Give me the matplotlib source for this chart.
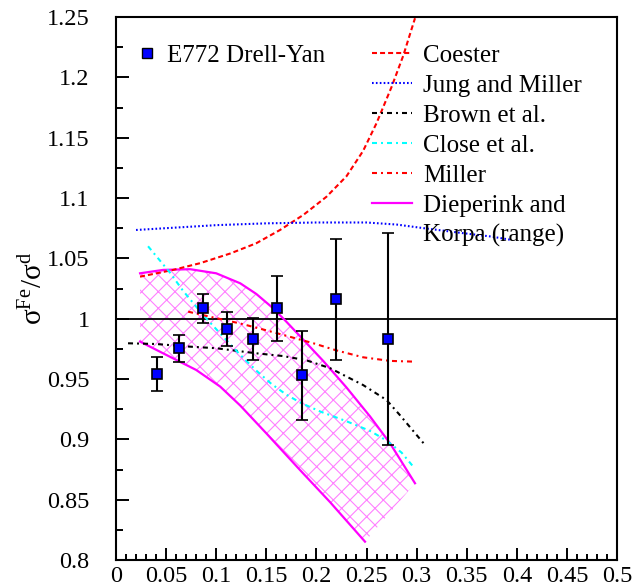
import matplotlib
matplotlib.use("Agg")
import matplotlib.pyplot as plt
from matplotlib.lines import Line2D
from matplotlib.ticker import MultipleLocator, FormatStrFormatter

plt.rcParams["font.family"] = "serif"
plt.rcParams["font.serif"] = ["Liberation Serif", "DejaVu Serif"]
plt.rcParams["mathtext.fontset"] = "custom"
plt.rcParams["mathtext.rm"] = "Liberation Serif"
plt.rcParams["mathtext.it"] = "Liberation Serif:italic"
plt.rcParams["lines.scale_dashes"] = False
plt.rcParams["hatch.linewidth"] = 0.8

# E772 Drell-Yan data
x_e772 = [0.041, 0.063, 0.087, 0.111, 0.137, 0.161, 0.186, 0.2196, 0.271]
y_e772 = [0.954, 0.9755, 1.0086, 0.9915, 0.9834, 1.0086, 0.953, 1.016, 0.9834]
err_e772 = [0.014, 0.011, 0.012, 0.014, 0.0175, 0.027, 0.037, 0.050, 0.088]

# Model curves
x_coester = [0.024, 0.057, 0.084, 0.114, 0.140, 0.1637, 0.187, 0.210, 0.230, 0.2466, 0.260, 0.275, 0.2867, 0.2984]
y_coester = [1.0348, 1.0404, 1.046, 1.054, 1.0625, 1.0735, 1.086, 1.101, 1.118, 1.139, 1.162, 1.192, 1.218, 1.249]

x_jung = [0.020, 0.06, 0.10, 0.15, 0.20, 0.25, 0.28, 0.307, 0.347, 0.375, 0.395]
y_jung = [1.0735, 1.0755, 1.0775, 1.079, 1.0797, 1.0797, 1.078, 1.075, 1.0708, 1.068, 1.0652]

x_brown = [0.012, 0.04, 0.074, 0.100, 0.140, 0.167, 0.190, 0.2136, 0.2466, 0.270, 0.2834, 0.307]
y_brown = [0.9796, 0.979, 0.9768, 0.9755, 0.9713, 0.969, 0.9655, 0.959, 0.945, 0.9326, 0.920, 0.8967]

x_close = [0.032, 0.054, 0.067, 0.087, 0.107, 0.124, 0.140, 0.155, 0.170, 0.185, 0.204, 0.230, 0.2535, 0.270, 0.285, 0.297]
y_close = [1.060, 1.038, 1.023, 1.003, 0.985, 0.970, 0.957, 0.946, 0.937, 0.930, 0.923, 0.915, 0.907, 0.899, 0.889, 0.877]

x_miller = [0.072, 0.097, 0.124, 0.147, 0.167, 0.197, 0.220, 0.2466, 0.2735, 0.297]
y_miller = [1.0058, 1.0010, 0.9960, 0.9910, 0.9865, 0.9796, 0.9737, 0.968, 0.9650, 0.9644]

x_dk_upper = [0.024, 0.047, 0.074, 0.100, 0.124, 0.140, 0.157, 0.170, 0.1836, 0.207, 0.230, 0.2535, 0.2735, 0.2984]
y_dk_upper = [1.0376, 1.0404, 1.041, 1.0376, 1.0293, 1.0205, 1.0085, 0.9975, 0.9855, 0.9648, 0.9430, 0.919, 0.8967, 0.8636]

x_dk_lower = [0.024, 0.047, 0.080, 0.104, 0.124, 0.150, 0.1836, 0.2136, 0.2485]
y_dk_lower = [0.981, 0.9713, 0.9575, 0.9437, 0.928, 0.905, 0.8746, 0.8480, 0.8152]

x_ticks = [0, 0.05, 0.1, 0.15, 0.2, 0.25, 0.3, 0.35, 0.4, 0.45, 0.5]
y_ticks = [0.8, 0.85, 0.9, 0.95, 1.0, 1.05, 1.1, 1.15, 1.2, 1.25]

fig = plt.figure(figsize=(6.33, 5.88), dpi=100)
ax = fig.add_axes([116 / 633, 1 - 560 / 588, 501 / 633, 543 / 588])

ax.set_xlim(0, 0.5)
ax.set_ylim(0.8, 1.25)

# reference line at unity
ax.axhline(1.0, color="black", lw=1.3, zorder=2)

# Dieperink and Korpa band: hatched region between the two bounds
band_x = x_dk_upper + x_dk_lower[::-1]
band_y = y_dk_upper + y_dk_lower[::-1]
ax.fill(band_x, band_y, facecolor="none", edgecolor="#ff80ff", hatch="xx", linewidth=0, zorder=1)
ax.plot(x_dk_upper, y_dk_upper, color="#ff00ff", lw=1.6, zorder=3)
ax.plot(x_dk_lower, y_dk_lower, color="#ff00ff", lw=1.6, zorder=3)

dashdot = (0, (3.6, 2.9, 1.4, 2.9))
ax.plot(x_coester, y_coester, color="#ff0000", lw=1.5, linestyle=(0, (3.6, 2.2)), zorder=3)
ax.plot(x_jung, y_jung, color="#0000ff", lw=1.5, linestyle=(0, (1.2, 1.6)), zorder=3)
ax.plot(x_brown, y_brown, color="black", lw=1.5, linestyle=dashdot, zorder=3)
ax.plot(x_close, y_close, color="#00ffff", lw=1.5, linestyle=dashdot, zorder=3)
ax.plot(x_miller, y_miller, color="#ff0000", lw=1.5, linestyle=dashdot, zorder=3)

ax.errorbar(x_e772, y_e772, yerr=err_e772, fmt="s", color="black", ecolor="black",
            elinewidth=1.5, capsize=4, capthick=1.5, markersize=7.8,
            markerfacecolor="#0000ff", markeredgecolor="black", markeredgewidth=1.2, zorder=5)

# axes styling
for s in ax.spines.values():
    s.set_linewidth(1.5)
ax.set_xticks(x_ticks)
ax.set_yticks(y_ticks)
ax.xaxis.set_major_formatter(FormatStrFormatter("%g"))
ax.yaxis.set_major_formatter(FormatStrFormatter("%g"))
ax.xaxis.set_minor_locator(MultipleLocator(0.01))
ax.yaxis.set_minor_locator(MultipleLocator(0.025))
ax.tick_params(axis="both", which="both", direction="in", top=False, right=False,
               labelsize=17.5, width=1.4)
ax.tick_params(axis="both", which="major", length=9)
ax.tick_params(axis="x", which="minor", length=4)
ax.tick_params(axis="y", which="minor", length=5)
ax.tick_params(axis="y", which="major", pad=19)
ax.tick_params(axis="x", which="major", pad=4)

ax.set_ylabel(r"$\mathrm{\sigma}^{\mathrm{Fe}}/\mathrm{\sigma}^{\mathrm{d}}$", fontsize=21, labelpad=0)
ax.yaxis.set_label_coords(-0.136, 0.5)

# legends
h_data = Line2D([], [], linestyle="none", marker="s", markersize=7.5,
                markerfacecolor="#0000ff", markeredgecolor="black", markeredgewidth=1.0)
leg1 = ax.legend([h_data], ["E772 Drell-Yan"], loc="upper left", bbox_to_anchor=(0.038, 0.95),
                 frameon=False, fontsize=18, handlelength=0.95, handletextpad=0.32,
                 borderpad=0, borderaxespad=0)
ax.add_artist(leg1)

handles = [
    Line2D([], [], color="#ff0000", lw=1.5, linestyle=(0, (3.6, 2.2))),
    Line2D([], [], color="#0000ff", lw=1.5, linestyle=(0, (1.2, 1.6))),
    Line2D([], [], color="black", lw=1.5, linestyle=dashdot),
    Line2D([], [], color="#00ffff", lw=1.5, linestyle=dashdot),
    Line2D([], [], color="#ff0000", lw=1.5, linestyle=dashdot),
    Line2D([], [], color="#ff00ff", lw=1.6),
    Line2D([], [], linestyle="none"),
]
labels = ["Coester", "Jung and Miller", "Brown et al.", "Close et al.", "Miller",
          "Dieperink and", "Korpa (range)"]
ax.legend(handles, labels, loc="upper left", bbox_to_anchor=(0.511, 0.95), frameon=False,
          fontsize=18, handlelength=1.6, handletextpad=0.44, labelspacing=0.3,
          borderpad=0, borderaxespad=0)

fig.savefig("out.png", dpi=100)
